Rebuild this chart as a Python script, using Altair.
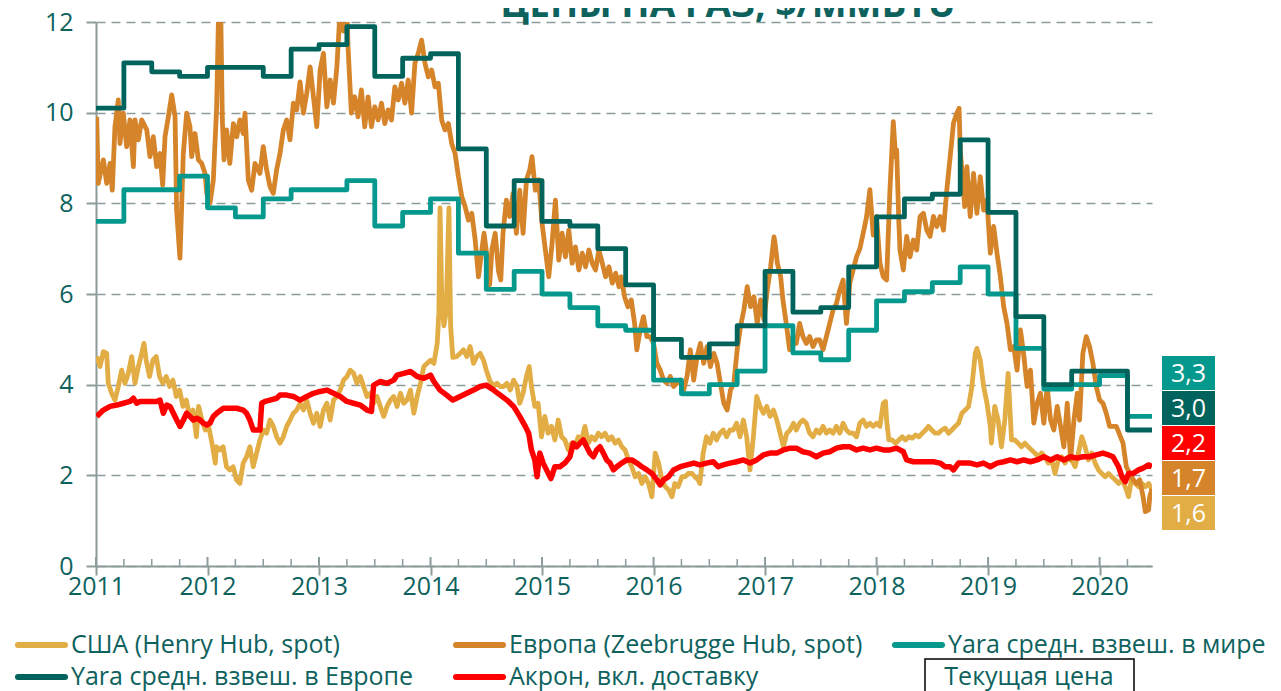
import altair as alt
import pandas as pd

# ---------------- data ----------------
# Henry Hub (USA), $/MMBtu
hh_t = [2011.006,2011.036,2011.066,2011.096,2011.11,2011.14,2011.17,2011.2,2011.23,2011.26,2011.29,2011.32,2011.35,2011.38,2011.41,2011.43,2011.45,2011.48,2011.51,2011.54,2011.57,2011.6,2011.63,2011.66,2011.69,2011.72,2011.75,2011.78,2011.81,2011.84,2011.87,2011.9,2011.92,2011.95,2011.98,
        2012.01,2012.04,2012.07,2012.08,2012.11,2012.14,2012.17,2012.2,2012.23,2012.26,2012.29,2012.32,2012.35,2012.38,2012.41,2012.44,2012.47,2012.5,2012.53,2012.56,2012.59,2012.62,2012.65,2012.68,2012.71,2012.74,2012.77,2012.8,2012.83,2012.86,2012.89,2012.92,2012.95,2012.98,
        2013.01,2013.04,2013.07,2013.1,2013.13,2013.16,2013.19,2013.22,2013.25,2013.28,2013.31,2013.34,2013.37,2013.4,2013.43,2013.46,2013.49,2013.52,2013.55,2013.58,2013.61,2013.64,2013.67,2013.7,2013.73,2013.76,2013.79,2013.82,2013.85,2013.88,2013.91,2013.94,2013.97,
        2014.0,2014.03,2014.06,2014.075,2014.085,2014.1,2014.12,2014.14,2014.165,2014.18,2014.2,2014.235,2014.265,2014.295,2014.325,2014.355,2014.385,2014.415,2014.445,2014.475,2014.5,2014.53,2014.565,2014.595,2014.625,2014.655,2014.685,2014.715,2014.745,2014.775,2014.8,2014.83,2014.86,2014.885,2014.905,2014.935,2014.965,2014.995,
        2015.025,2015.055,2015.085,2015.115,2015.145,2015.175,2015.205,2015.235,2015.265,2015.295,2015.325,2015.355,2015.385,2015.415,2015.445,2015.475,2015.505,2015.535,2015.565,2015.595,2015.625,2015.655,2015.685,2015.715,2015.745,2015.775,2015.805,2015.835,2015.865,2015.895,2015.925,2015.955,2015.985,
        2016.015,2016.045,2016.075,2016.105,2016.135,2016.165,2016.19,2016.22,2016.255,2016.285,2016.31,2016.345,2016.37,2016.4,2016.415,2016.445,2016.475,2016.505,2016.535,2016.565,2016.595,2016.625,2016.655,2016.685,2016.715,2016.745,2016.775,2016.805,2016.835,2016.865,2016.895,2016.925,2016.955,2016.985,
        2017.015,2017.045,2017.075,2017.105,2017.135,2017.165,2017.195,2017.225,2017.255,2017.28,2017.31,2017.34,2017.37,2017.4,2017.43,2017.46,2017.49,2017.52,2017.55,2017.58,2017.61,2017.64,2017.67,2017.7,2017.73,2017.76,2017.79,2017.82,2017.85,2017.88,2017.91,2017.94,2017.97,
        2018.0,2018.03,2018.06,2018.08,2018.09,2018.11,2018.14,2018.17,2018.2,2018.23,2018.26,2018.29,2018.32,2018.35,2018.38,2018.41,2018.44,2018.465,2018.495,2018.525,2018.555,2018.585,2018.615,2018.645,2018.675,2018.705,2018.735,2018.765,2018.795,2018.825,2018.855,2018.885,2018.9,2018.93,2018.96,2018.99,
        2019.02,2019.03,2019.06,2019.09,2019.12,2019.15,2019.18,2019.21,2019.24,2019.27,2019.3,2019.33,2019.36,2019.39,2019.42,2019.45,2019.48,2019.51,2019.54,2019.57,2019.6,2019.63,2019.66,2019.69,2019.72,2019.75,2019.78,2019.81,2019.84,2019.87,2019.9,2019.93,2019.96,2019.99,
        2020.02,2020.05,2020.08,2020.11,2020.14,2020.17,2020.2,2020.23,2020.26,2020.29,2020.32,2020.35,2020.38,2020.41,2020.44,2020.47]
hh_v = [4.62,4.4,4.73,4.69,4.03,3.81,3.66,3.96,4.32,4.03,4.25,4.62,4.03,4.4,4.69,4.91,4.54,4.18,4.54,4.62,4.18,4.03,4.18,3.96,4.1,3.74,3.88,3.52,3.66,3.3,3.44,2.85,3.52,3.22,3.0,
        3.08,2.71,2.27,2.63,2.56,2.63,2.19,2.12,2.19,1.9,1.82,2.27,2.41,2.63,2.19,2.49,2.78,3.0,2.93,3.22,3.08,2.85,2.71,2.85,3.08,3.22,3.37,3.44,3.59,3.44,3.66,3.37,3.15,3.37,
        3.08,3.44,3.59,3.22,3.66,3.74,3.88,4.1,4.18,4.32,4.25,4.03,4.18,3.96,3.74,3.81,3.59,3.74,3.52,3.3,3.52,3.66,3.74,3.52,3.81,3.59,3.66,3.88,3.37,3.74,4.03,4.4,4.47,
        4.54,4.47,4.91,5.6,7.9,6.0,5.3,5.6,7.9,5.3,4.6,4.62,4.69,4.77,4.62,4.84,4.47,4.62,4.69,4.54,4.32,4.1,3.96,4.03,3.96,3.96,4.03,3.88,4.1,3.96,3.59,3.81,4.18,4.4,3.96,3.52,3.59,2.85,
        3.3,2.93,3.08,2.78,3.22,2.85,2.78,2.56,2.71,2.63,2.85,2.78,3.08,2.71,2.85,2.78,2.93,2.85,2.93,2.78,2.85,2.71,2.78,2.63,2.56,2.34,2.19,1.97,2.04,1.82,1.97,1.82,1.53,
        2.49,2.27,1.9,1.75,1.68,1.53,1.82,1.75,1.97,1.97,2.04,2.04,1.97,1.9,1.82,2.49,2.85,2.71,2.93,2.78,2.93,3.0,2.85,3.0,3.0,3.15,2.85,3.22,2.85,2.12,2.85,3.74,3.52,3.37,
        3.52,3.3,3.44,3.22,2.93,2.63,2.93,3.0,3.15,3.0,3.15,3.22,3.15,2.93,2.85,3.0,2.93,3.08,2.93,3.0,2.93,3.08,2.93,3.15,3.0,2.93,2.93,2.85,3.15,3.22,3.08,3.15,3.08,
        3.15,3.08,3.59,3.63,3.22,2.78,2.78,2.71,2.78,2.85,2.78,2.85,2.82,2.89,2.85,2.93,3.0,3.08,3.0,2.93,2.93,3.0,3.04,2.93,3.0,3.08,3.15,3.37,3.44,3.52,3.96,4.69,4.8,4.54,3.96,3.59,
        3.08,2.71,3.52,3.22,2.63,3.22,4.25,2.78,2.78,2.71,2.63,2.71,2.63,2.56,2.49,2.41,2.49,2.41,2.27,2.34,2.04,2.34,2.41,2.27,2.41,2.34,2.19,2.49,2.85,2.63,2.34,2.49,2.27,2.12,
        2.04,1.97,2.04,1.97,1.9,1.82,1.9,1.75,1.53,1.97,1.82,1.75,1.82,1.75,1.82,1.68]

# Zeebrugge Hub (Europe), $/MMBtu
zb_t = [2011.006,2011.02,2011.066,2011.096,2011.126,2011.146,2011.17,2011.2,2011.215,2011.245,2011.275,2011.305,2011.335,2011.35,2011.38,2011.41,2011.455,2011.484,2011.514,2011.544,2011.574,2011.598,2011.619,2011.649,2011.679,2011.709,2011.723,2011.753,2011.768,2011.783,2011.813,2011.843,2011.858,2011.888,2011.918,2011.948,2011.978,2011.993,
        2012.022,2012.052,2012.082,2012.1,2012.118,2012.133,2012.148,2012.172,2012.2,2012.232,2012.262,2012.29,2012.32,2012.336,2012.366,2012.396,2012.426,2012.47,2012.5,2012.53,2012.56,2012.59,2012.62,2012.65,2012.68,2012.71,2012.74,2012.77,2012.8,2012.83,2012.86,2012.89,2012.92,2012.95,2012.98,
        2013.01,2013.04,2013.07,2013.1,2013.13,2013.16,2013.19,2013.22,2013.25,2013.26,2013.29,2013.32,2013.35,2013.38,2013.41,2013.44,2013.47,2013.5,2013.53,2013.56,2013.59,2013.62,2013.65,2013.68,2013.71,2013.74,2013.77,2013.8,2013.83,2013.86,2013.89,2013.92,2013.95,2013.98,
        2014.01,2014.04,2014.07,2014.1,2014.13,2014.16,2014.19,2014.22,2014.25,2014.28,2014.31,2014.34,2014.37,2014.4,2014.43,2014.46,2014.48,2014.51,2014.53,2014.55,2014.58,2014.61,2014.63,2014.65,2014.68,2014.71,2014.74,2014.77,2014.8,2014.83,2014.86,2014.89,2014.91,2014.94,2014.97,
        2015.0,2015.03,2015.06,2015.09,2015.12,2015.15,2015.18,2015.21,2015.24,2015.27,2015.3,2015.33,2015.36,2015.39,2015.42,2015.45,2015.48,2015.51,2015.54,2015.57,2015.6,2015.63,2015.66,2015.69,2015.71,2015.74,2015.77,2015.8,2015.83,2015.85,2015.88,2015.91,2015.94,2015.97,
        2016.0,2016.03,2016.06,2016.09,2016.12,2016.15,2016.18,2016.21,2016.24,2016.27,2016.3,2016.33,2016.36,2016.39,2016.42,2016.45,2016.48,2016.51,2016.54,2016.57,2016.6,2016.63,2016.66,2016.69,2016.72,2016.75,2016.78,2016.81,2016.84,2016.87,2016.9,2016.93,2016.96,2016.99,
        2017.02,2017.05,2017.08,2017.09,2017.11,2017.14,2017.16,2017.19,2017.22,2017.25,2017.28,2017.31,2017.34,2017.37,2017.4,2017.43,2017.46,2017.49,2017.52,2017.55,2017.58,2017.61,2017.64,2017.67,2017.7,2017.73,2017.76,2017.79,2017.82,2017.85,2017.88,2017.91,2017.94,2017.97,
        2018.0,2018.03,2018.06,2018.09,2018.12,2018.15,2018.17,2018.18,2018.2,2018.21,2018.24,2018.27,2018.3,2018.33,2018.36,2018.39,2018.42,2018.45,2018.48,2018.51,2018.54,2018.57,2018.6,2018.63,2018.66,2018.69,2018.72,2018.74,2018.75,2018.78,2018.79,2018.81,2018.84,2018.87,2018.9,2018.93,2018.96,2018.99,
        2019.02,2019.05,2019.08,2019.11,2019.14,2019.17,2019.2,2019.23,2019.26,2019.29,2019.32,2019.35,2019.38,2019.41,2019.44,2019.47,2019.5,2019.53,2019.56,2019.59,2019.62,2019.65,2019.68,2019.71,2019.74,2019.77,2019.8,2019.82,2019.85,2019.88,2019.91,2019.94,2019.97,
        2020.0,2020.03,2020.06,2020.09,2020.15,2020.21,2020.24,2020.3,2020.33,2020.36,2020.39,2020.41,2020.44,2020.45,2020.47]
zb_v = [9.91,8.44,8.96,8.44,8.88,8.29,9.69,10.28,9.32,9.99,9.25,9.84,8.81,9.84,9.4,9.84,9.62,9.03,9.47,8.81,9.1,8.4,9.47,9.91,10.39,9.91,7.85,6.79,7.93,9.1,9.99,9.69,9.03,9.54,8.96,8.88,8.66,8.22,
        8.0,8.51,10.13,12.3,12.3,9.84,8.96,9.62,8.88,9.76,9.47,9.84,9.54,9.99,8.51,8.29,8.88,8.66,9.25,8.74,8.37,8.22,8.74,9.1,9.62,9.84,9.4,10.21,10.06,10.68,9.99,10.43,11.01,10.35,9.69,
        10.94,11.31,10.13,10.72,10.21,11.01,12.3,11.8,12.3,11.46,9.99,10.35,9.91,10.5,9.69,10.35,9.69,10.13,9.84,10.21,9.76,10.06,9.84,10.57,10.28,10.65,10.21,10.72,9.99,11.09,11.31,11.6,11.09,10.79,
        10.94,10.57,10.65,9.84,9.62,9.76,9.32,9.1,8.59,8.15,7.93,7.63,7.78,7.2,6.38,6.97,7.34,6.75,6.2,6.97,7.34,6.5,6.31,7.34,8.07,7.71,8.22,7.34,8.29,7.34,8.52,8.74,9.03,8.29,8.52,
        7.56,6.97,6.38,7.12,8.07,6.75,7.34,6.82,7.41,6.68,7.04,6.53,6.9,6.6,6.97,6.68,6.53,6.97,6.68,6.38,6.6,6.24,6.46,6.16,6.38,5.94,5.72,5.87,5.35,4.77,5.21,5.5,5.06,5.06,
        4.91,4.47,4.32,4.1,4.03,4.18,3.96,4.03,4.1,3.88,4.18,4.77,4.1,4.62,4.91,4.47,4.84,4.4,4.69,4.47,4.03,3.59,3.44,3.88,4.03,4.77,5.28,5.65,6.16,5.72,5.94,5.35,5.87,5.43,
        6.09,6.6,7.26,7.12,6.68,6.38,5.87,5.35,4.77,5.06,4.91,5.35,5.06,4.91,5.06,4.84,4.99,4.99,4.77,5.06,5.35,5.65,5.79,6.09,6.31,5.35,6.24,6.53,6.82,7.0,7.34,7.7,8.3,7.3,
        7.71,6.68,6.38,6.31,8.3,9.8,9.03,9.18,7.56,6.97,6.53,7.27,6.82,7.19,6.97,7.71,7.78,7.41,7.27,7.71,7.49,7.71,7.41,8.3,9.03,9.77,9.99,10.1,9.18,8.3,7.93,8.81,7.71,8.66,7.78,8.59,7.85,8.07,
        6.9,7.49,6.9,6.38,5.72,5.35,4.77,4.84,4.32,5.21,4.65,3.96,4.32,3.15,3.59,3.81,3.15,3.96,3.22,3.0,3.52,3.08,2.63,3.59,2.34,3.22,3.81,3.22,4.69,5.06,4.84,4.47,3.96,
        3.66,3.59,3.37,3.08,3.08,2.71,2.19,1.9,1.82,1.9,1.53,1.2,1.24,1.53,1.7]

# Akron incl. delivery, $/MMBtu
ak_t = [2011.006,2011.066,2011.126,2011.186,2011.246,2011.305,2011.335,2011.365,2011.395,2011.455,2011.514,2011.544,2011.574,2011.604,2011.634,2011.664,2011.694,2011.724,2011.754,2011.784,2011.813,2011.843,2011.873,2011.903,2011.933,2011.963,2011.993,
        2012.022,2012.052,2012.082,2012.142,2012.2,2012.262,2012.32,2012.35,2012.38,2012.41,2012.44,2012.47,2012.486,2012.516,2012.56,2012.62,2012.65,2012.71,2012.77,2012.83,2012.89,2012.95,
        2013.01,2013.07,2013.13,2013.19,2013.25,2013.31,2013.37,2013.43,2013.47,2013.49,2013.55,2013.61,2013.67,2013.7,2013.76,2013.82,2013.88,2013.94,
        2014.0,2014.03,2014.085,2014.145,2014.2,2014.265,2014.325,2014.385,2014.445,2014.5,2014.565,2014.625,2014.685,2014.745,2014.8,2014.85,2014.88,2014.905,2014.935,2014.955,2014.98,
        2015.01,2015.04,2015.08,2015.115,2015.16,2015.205,2015.25,2015.28,2015.31,2015.34,2015.37,2015.4,2015.43,2015.46,2015.49,2015.52,2015.55,2015.58,2015.61,2015.64,2015.67,2015.715,2015.76,2015.805,2015.85,2015.895,2015.94,2015.985,
        2016.03,2016.06,2016.09,2016.135,2016.18,2016.24,2016.3,2016.36,2016.415,2016.475,2016.535,2016.58,2016.625,2016.685,2016.745,2016.805,2016.865,2016.925,2016.985,
        2017.045,2017.105,2017.165,2017.225,2017.28,2017.34,2017.4,2017.46,2017.52,2017.58,2017.64,2017.7,2017.76,2017.82,2017.88,2017.94,
        2018.0,2018.06,2018.12,2018.18,2018.24,2018.27,2018.33,2018.39,2018.45,2018.51,2018.57,2018.615,2018.66,2018.69,2018.735,2018.78,2018.84,2018.9,2018.96,
        2019.02,2019.08,2019.14,2019.2,2019.26,2019.32,2019.38,2019.44,2019.5,2019.56,2019.62,2019.68,2019.74,2019.8,2019.85,2019.91,2019.97,
        2020.03,2020.08,2020.12,2020.17,2020.2,2020.23,2020.26,2020.3,2020.35,2020.39,2020.44,2020.47]
ak_v = [3.3,3.44,3.52,3.55,3.59,3.63,3.7,3.59,3.63,3.63,3.63,3.63,3.66,3.37,3.55,3.52,3.37,3.22,3.08,3.22,3.37,3.3,3.22,3.26,3.22,3.15,3.11,
        3.15,3.3,3.37,3.48,3.48,3.48,3.44,3.37,3.22,3.0,3.0,3.0,3.59,3.63,3.66,3.7,3.77,3.77,3.74,3.66,3.74,3.81,
        3.85,3.88,3.81,3.74,3.63,3.59,3.55,3.44,3.41,3.99,4.07,4.03,4.1,4.21,4.25,4.29,4.18,4.14,
        4.21,4.07,3.88,3.77,3.66,3.74,3.81,3.88,3.96,3.99,3.88,3.77,3.66,3.52,3.3,3.08,2.93,2.56,2.34,1.97,2.49,
        2.27,2.12,1.93,2.19,2.19,2.27,2.41,2.71,2.63,2.71,2.78,2.63,2.49,2.41,2.56,2.63,2.49,2.34,2.27,2.12,2.19,2.27,2.34,2.34,2.27,2.19,2.12,2.04,
        1.9,1.79,1.9,1.97,2.12,2.19,2.23,2.27,2.23,2.27,2.3,2.19,2.23,2.27,2.3,2.34,2.27,2.34,2.45,
        2.49,2.49,2.56,2.6,2.6,2.52,2.49,2.41,2.49,2.52,2.6,2.63,2.63,2.56,2.6,2.56,
        2.6,2.56,2.56,2.6,2.52,2.34,2.3,2.3,2.3,2.3,2.27,2.19,2.19,2.12,2.27,2.27,2.27,2.23,2.27,
        2.19,2.27,2.3,2.34,2.3,2.34,2.3,2.34,2.41,2.34,2.41,2.34,2.41,2.38,2.41,2.41,2.45,
        2.49,2.45,2.41,2.19,1.97,1.86,2.04,2.04,2.12,2.16,2.23,2.19]

# Yara weighted average, world (quarterly steps)
yw_t = [2011.0,2011.25,2011.5,2011.75,2012.0,2012.25,2012.5,2012.75,2013.0,2013.25,2013.5,2013.75,2014.0,2014.25,2014.5,2014.75,2015.0,2015.25,2015.5,2015.75,2016.0,2016.25,2016.5,2016.75,2017.0,2017.25,2017.5,2017.75,2018.0,2018.25,2018.5,2018.75,2019.0,2019.25,2019.5,2019.75,2020.0,2020.25]
yw_v = [7.6,8.3,8.3,8.6,7.9,7.7,8.1,8.3,8.3,8.5,7.5,7.8,8.1,6.9,6.1,6.5,6.0,5.7,5.3,5.2,4.1,3.8,4.0,4.3,5.3,4.7,4.55,5.2,5.85,6.05,6.25,6.6,6.0,4.8,3.9,4.0,4.2,3.3]

# Yara weighted average, Europe (quarterly steps)
ye_t = yw_t
ye_v = [10.1,11.1,10.9,10.8,11.0,11.0,10.8,11.4,11.5,11.9,10.8,11.2,11.3,9.2,7.5,8.5,7.6,7.5,7.0,6.2,5.0,4.6,4.9,5.3,6.5,5.6,5.7,6.6,7.7,8.1,8.2,9.4,7.8,5.5,4.0,4.3,4.3,3.0]

END_T = 2020.47

series_names = ["США (Henry Hub, spot)", "Европа (Zeebrugge Hub, spot)", "Yara средн. взвеш. в мире",
                "Yara средн. взвеш. в Европе", "Акрон, вкл. доставку"]
series_colors = ["#e2ad44", "#d5842a", "#05998d", "#00635c", "#ff0000"]

current_labels = ["3,3", "3,0", "2,2", "1,7", "1,6"]
current_colors = ["#05998d", "#00635c", "#ff0000", "#d5842a", "#e2ad44"]

title_text = "ЦЕНЫ НА ГАЗ, $/MMBTU"
box_text = "Текущая цена"
year_ticks = list(range(2011, 2021))
y_ticks = [0, 2, 4, 6, 8, 10, 12]

# ---------------- style ----------------
FONT = "Open Sans"
TXT = "#0e625e"
AX = "#8c9c9a"
W, H = 1056, 544

x_scale = alt.Scale(domain=[2011.0, END_T], nice=False, zero=False)
y_scale = alt.Scale(domain=[0, 12], nice=False)

x_axis = alt.Axis(values=year_ticks, format="d", title=None, grid=False, tickSize=9, tickWidth=2,
                  tickColor=AX, domainColor=AX, domainWidth=2, labelColor=TXT, labelFont=FONT,
                  labelFontSize=25, labelPadding=-1, labelFlush=False)
y_axis = alt.Axis(values=y_ticks, title=None, grid=True, gridColor=AX, gridDash=[9, 6], gridWidth=1.5,
                  tickSize=10, tickWidth=2, tickColor=AX, domainColor=AX, domainWidth=2,
                  labelColor=TXT, labelFont=FONT, labelFontSize=25, labelPadding=13, labelFlush=False)


def X():
    return alt.X("t:Q", scale=x_scale, axis=x_axis)


def Y():
    return alt.Y("v:Q", scale=y_scale, axis=y_axis)


def df(t, v):
    return pd.DataFrame({"t": t, "v": v})


layers = []
layers.append(alt.Chart(df(hh_t, hh_v)).mark_line(color=series_colors[0], strokeWidth=4.8, strokeJoin="round", clip=True)
              .encode(x=X(), y=Y()))
layers.append(alt.Chart(df(zb_t, zb_v)).mark_line(color=series_colors[1], strokeWidth=4.8, strokeJoin="round", clip=True)
              .encode(x=X(), y=Y()))
layers.append(alt.Chart(df(yw_t + [END_T], yw_v + [yw_v[-1]])).mark_line(color=series_colors[2], strokeWidth=4.8,
              interpolate="step-after", strokeJoin="round").encode(x=X(), y=Y()))
layers.append(alt.Chart(df(ye_t + [END_T], ye_v + [ye_v[-1]])).mark_line(color=series_colors[3], strokeWidth=4.8,
              interpolate="step-after", strokeJoin="round").encode(x=X(), y=Y()))
layers.append(alt.Chart(df(ak_t, ak_v)).mark_line(color=series_colors[4], strokeWidth=5.5, strokeJoin="round", clip=True)
              .encode(x=X(), y=Y()))

# minor (quarter) ticks and inward part of major ticks on the x axis
quarters = [y + q for y in range(2011, 2021) for q in (0.25, 0.5, 0.75) if y + q < END_T]
layers.append(alt.Chart(df(quarters, [0] * len(quarters))).mark_rule(color=AX, strokeWidth=1.5)
              .encode(x=X(), y=alt.value(H - 7), y2=alt.value(H)))
layers.append(alt.Chart(df(year_ticks, [0] * len(year_ticks))).mark_rule(color=AX, strokeWidth=2)
              .encode(x=X(), y=alt.value(H - 9), y2=alt.value(H)))

# title (clipped at the top of the page as in the reference)
layers.append(alt.Chart(df([0], [0])).mark_text(text=title_text, font=FONT, fontSize=37, fontWeight="bold",
              color=TXT, align="center", baseline="alphabetic")
              .encode(x=alt.value(632), y=alt.value(-5)))

# current price boxes on the right
for i, (lab, col) in enumerate(zip(current_labels, current_colors)):
    top = 334 + 35 * i
    layers.append(alt.Chart(df([0], [0])).mark_rect(color=col)
                  .encode(x=alt.value(1066), x2=alt.value(1119), y=alt.value(top), y2=alt.value(top + 34)))
    layers.append(alt.Chart(df([0], [0])).mark_text(text=lab, font=FONT, fontSize=25, color="white",
                  align="center", baseline="middle")
                  .encode(x=alt.value(1092.5), y=alt.value(top + 18)))

# legend
col_x = [-81, 357, 796]
row_y = [623, 655]
order = [(0, 0), (0, 1), (0, 2), (1, 0), (1, 1)]
for k, (r, c) in enumerate(order):
    x0 = col_x[c]
    yy = row_y[r]
    layers.append(alt.Chart(df([0], [0])).mark_rule(color=series_colors[k], strokeWidth=6, strokeCap="round")
                  .encode(x=alt.value(x0 + 3), x2=alt.value(x0 + 50), y=alt.value(yy)))
    layers.append(alt.Chart(df([0], [0])).mark_text(text=series_names[k], font=FONT, fontSize=25, color=TXT,
                  align="left", baseline="middle")
                  .encode(x=alt.value(x0 + 56), y=alt.value(yy)))

layers.append(alt.Chart(df([0], [0])).mark_rect(fill="white", stroke="black", strokeWidth=1.5)
              .encode(x=alt.value(829), x2=alt.value(1038), y=alt.value(637), y2=alt.value(672)))
layers.append(alt.Chart(df([0], [0])).mark_text(text=box_text, font=FONT, fontSize=25, color=TXT,
              align="center", baseline="middle")
              .encode(x=alt.value(933), y=alt.value(655)))

chart = alt.layer(*layers).properties(
    width=W, height=H,
    autosize=alt.AutoSizeParams(type="none"),
    padding={"left": 88, "top": 14, "right": 121, "bottom": 127},
).configure_view(stroke=None)

chart.save("out.html", embed_options={"renderer": "svg", "actions": False})
